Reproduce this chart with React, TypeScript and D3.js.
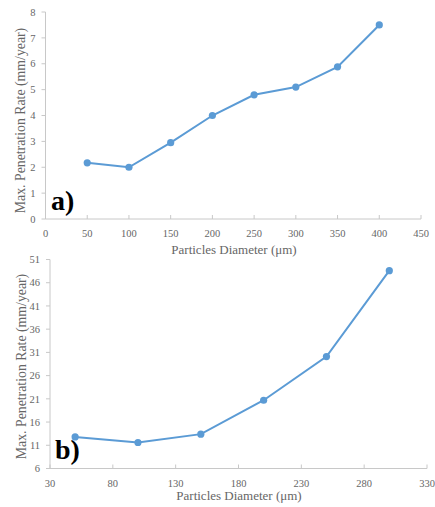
import React from "react";
import * as d3 from "d3";

// Panel a) — maximum penetration rate vs particle diameter
const diametersA = [50, 100, 150, 200, 250, 300, 350, 400];
const ratesA = [2.17, 2.0, 2.95, 4.0, 4.8, 5.1, 5.88, 7.5];
const xTicksA = [0, 50, 100, 150, 200, 250, 300, 350, 400, 450];
const yTicksA = [0, 1, 2, 3, 4, 5, 6, 7, 8];

// Panel b)
const diametersB = [50, 100, 150, 200, 250, 300];
const ratesB = [12.8, 11.6, 13.4, 20.7, 30.1, 48.6];
const xTicksB = [30, 80, 130, 180, 230, 280, 330];
const yTicksB = [6, 11, 16, 21, 26, 31, 36, 41, 46, 51];

const xTitle = "Particles Diameter (μm)";
const yTitle = "Max. Penetration Rate (mm/year)";

const LINE = "#5B9BD5";
const AXIS = "#C8C8C8";
const TEXT = "#666666";
const FONT = "'Liberation Serif', 'Times New Roman', serif";

type PanelProps = {
  xs: number[];
  ys: number[];
  xTicks: number[];
  yTicks: number[];
  left: number;
  right: number;
  top: number;
  bottom: number;
  label: string;
  labelX: number;
  labelY: number;
  xTitleX: number;
  xTitleY: number;
  yTitleX: number;
  yTitleY: number;
};

function Panel(p: PanelProps) {
  const x = d3
    .scaleLinear()
    .domain([p.xTicks[0], p.xTicks[p.xTicks.length - 1]])
    .range([p.left, p.right]);
  const y = d3
    .scaleLinear()
    .domain([p.yTicks[0], p.yTicks[p.yTicks.length - 1]])
    .range([p.bottom, p.top]);
  const pts = p.xs.map((v, i) => [v, p.ys[i]] as [number, number]);
  const line = d3
    .line<[number, number]>()
    .x((d) => x(d[0]))
    .y((d) => y(d[1]));

  return (
    <g fontFamily={FONT}>
      {/* axes */}
      <line x1={p.left} x2={p.left} y1={p.top} y2={p.bottom} stroke={AXIS} strokeWidth={1} />
      <line x1={p.left} x2={p.right} y1={p.bottom} y2={p.bottom} stroke={AXIS} strokeWidth={1} />
      {p.yTicks.map((t) => (
        <g key={"y" + t}>
          <line x1={p.left - 4} x2={p.left} y1={y(t)} y2={y(t)} stroke={AXIS} />
          <text
            x={p.left - 10}
            y={y(t)}
            dy="0.35em"
            textAnchor="end"
            fontSize={10.5}
            fill={TEXT}
          >
            {t}
          </text>
        </g>
      ))}
      {p.xTicks.map((t) => (
        <g key={"x" + t}>
          <line x1={x(t)} x2={x(t)} y1={p.bottom - 4} y2={p.bottom} stroke={AXIS} />
          <text
            x={x(t)}
            y={p.bottom + 18}
            textAnchor="middle"
            fontSize={10.5}
            fill={TEXT}
          >
            {t}
          </text>
        </g>
      ))}
      {/* titles */}
      <text x={p.xTitleX} y={p.xTitleY} textAnchor="middle" fontSize={13} fill={TEXT}>
        {xTitle}
      </text>
      <text
        transform={`translate(${p.yTitleX},${p.yTitleY}) rotate(-90)`}
        textAnchor="middle"
        fontSize={13.8}
        fill={TEXT}
      >
        {yTitle}
      </text>
      {/* series */}
      <path d={line(pts) ?? ""} fill="none" stroke={LINE} strokeWidth={2} />
      {pts.map((d, i) => (
        <circle key={i} cx={x(d[0])} cy={y(d[1])} r={3.6} fill={LINE} />
      ))}
      <text x={p.labelX} y={p.labelY} fontSize={28} fontWeight="bold" fill="#000">
        {p.label}
      </text>
    </g>
  );
}

export default function App() {
  return (
    <svg
      width={435}
      height={507}
      style={{ position: "absolute", left: 0, top: 0, background: "#fff" }}
    >
      <Panel
        xs={diametersA}
        ys={ratesA}
        xTicks={xTicksA}
        yTicks={yTicksA}
        left={45.5}
        right={421}
        top={12}
        bottom={219}
        label="a)"
        labelX={51}
        labelY={210}
        xTitleX={234}
        xTitleY={254}
        yTitleX={25}
        yTitleY={120.5}
      />
      <Panel
        xs={diametersB}
        ys={ratesB}
        xTicks={xTicksB}
        yTicks={yTicksB}
        left={50}
        right={427}
        top={259.5}
        bottom={468.5}
        label="b)"
        labelX={55}
        labelY={459}
        xTitleX={239}
        xTitleY={500}
        yTitleX={26}
        yTitleY={366.5}
      />
    </svg>
  );
}
